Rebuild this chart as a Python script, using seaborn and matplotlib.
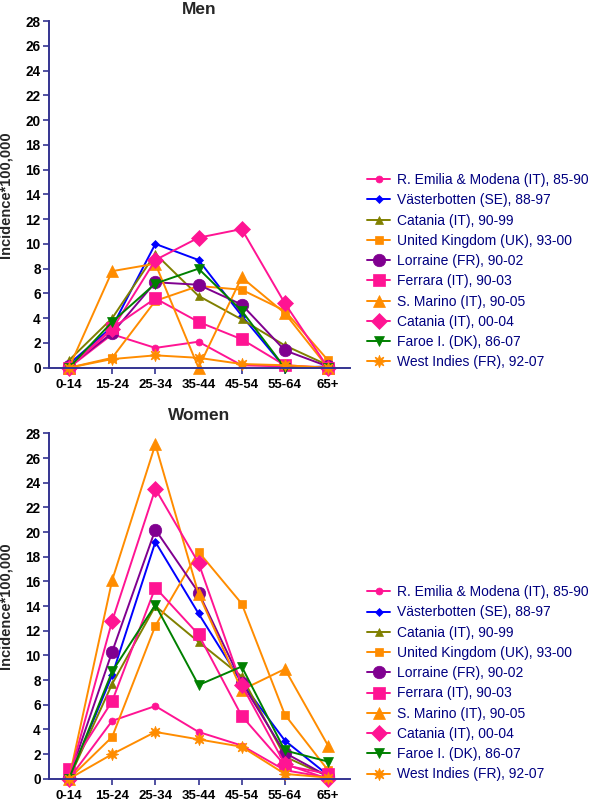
import matplotlib
matplotlib.use("Agg")
import matplotlib.pyplot as plt
import seaborn as sns

age_groups = ["0-14", "15-24", "25-34", "35-44", "45-54", "55-64", "65+"]
registries = [
    "R. Emilia & Modena (IT), 85-90",
    "Västerbotten (SE), 88-97",
    "Catania (IT), 90-99",
    "United Kingdom (UK), 93-00",
    "Lorraine (FR), 90-02",
    "Ferrara (IT), 90-03",
    "S. Marino (IT), 90-05",
    "Catania (IT), 00-04",
    "Faroe I. (DK), 86-07",
    "West Indies (FR), 92-07",
]

# incidence per 100,000 - men
men_emilia = [0.0, 2.7, 1.6, 2.1, 0.2, 0.1, 0.0]
men_vasterbotten = [0.3, 3.3, 10.0, 8.7, 4.2, 0.0, 0.1]
men_catania_90 = [0.6, 4.0, 9.2, 5.8, 3.9, 1.8, 0.2]
men_uk = [0.0, 0.8, 5.4, 6.6, 6.3, 4.6, 0.6]
men_lorraine = [0.1, 2.8, 6.9, 6.7, 5.1, 1.4, 0.1]
men_ferrara = [0.0, 3.2, 5.6, 3.7, 2.3, 0.2, 0.0]
men_smarino = [0.0, 7.8, 8.4, 0.0, 7.3, 4.4, 0.0]
men_catania_00 = [0.0, 3.1, 8.7, 10.5, 11.2, 5.2, 0.0]
men_faroe = [0.0, 3.7, 6.8, 8.0, 4.6, 0.0, 0.0]
men_westindies = [0.0, 0.7, 1.0, 0.8, 0.3, 0.2, 0.0]

# incidence per 100,000 - women
women_emilia = [0.0, 4.7, 5.9, 3.8, 2.7, 0.7, 0.1]
women_vasterbotten = [0.0, 8.4, 19.2, 13.4, 7.8, 3.1, 0.3]
women_catania_90 = [0.0, 7.7, 14.0, 11.1, 8.3, 1.8, 0.2]
women_uk = [0.0, 3.4, 12.4, 18.4, 14.2, 5.2, 0.7]
women_lorraine = [0.1, 10.3, 20.2, 15.1, 7.8, 2.1, 0.2]
women_ferrara = [0.8, 6.3, 15.5, 11.7, 5.1, 1.1, 0.4]
women_smarino = [0.0, 16.1, 27.1, 15.0, 7.2, 8.9, 2.7]
women_catania_00 = [0.0, 12.8, 23.5, 17.5, 7.6, 1.2, 0.0]
women_faroe = [0.0, 8.7, 14.1, 7.6, 9.1, 2.3, 1.4]
women_westindies = [0.0, 2.0, 3.8, 3.2, 2.6, 0.4, 0.1]

men_series = [men_emilia, men_vasterbotten, men_catania_90, men_uk, men_lorraine,
              men_ferrara, men_smarino, men_catania_00, men_faroe, men_westindies]
women_series = [women_emilia, women_vasterbotten, women_catania_90, women_uk, women_lorraine,
                women_ferrara, women_smarino, women_catania_00, women_faroe, women_westindies]

pink = "#FF1493"
orange = "#FF8C00"
colors = [pink, "#0000FF", "#808000", orange, "#800090",
          pink, orange, pink, "#008000", orange]
markers = ["o", "D", "^", "s", "o", "s", "^", "D", "v", (8, 1, 0)]
msizes = [5, 4.5, 6, 5.5, 9, 9, 9, 8, 7, 9]

navy = "#343491"

sns.set_style("ticks")
plt.rcParams["font.family"] = ["Liberation Sans", "DejaVu Sans"]

fig = plt.figure(figsize=(6, 8.05), dpi=100)
ax_men = fig.add_axes([0.0817, 0.5432, 0.5017, 0.4307])
ax_women = fig.add_axes([0.0817, 0.0325, 0.5017, 0.4292])


def draw_panel(ax, series, title, title_pad, legend_top):
    for vals, name, c, m, ms in zip(series, registries, colors, markers, msizes):
        sns.lineplot(x=age_groups, y=vals, ax=ax, color=c, marker=m, markersize=ms,
                     markeredgecolor=c, markeredgewidth=0.5, linewidth=1.4,
                     sort=False, label=name, clip_on=False)
    ax.set_xlim(-0.463, 6.51)
    ax.set_ylim(0, 28)
    ax.set_yticks(range(0, 29, 2))
    ax.set_xlabel("")
    ax.set_ylabel("Incidence*100,000", fontsize=10.5, fontweight="bold")
    ax.yaxis.set_label_coords(-0.12, 0.5)
    ax.set_title(title, fontsize=12.5, fontweight="bold", pad=title_pad)
    sns.despine(ax=ax)
    for side in ["left", "bottom"]:
        ax.spines[side].set_color(navy)
        ax.spines[side].set_linewidth(1.4)
    ax.tick_params(axis="both", colors=navy, labelcolor="black", labelsize=9.8,
                   width=1.2, length=4, pad=2)
    ax.tick_params(axis="x", pad=4, labelsize=9.5)
    for lab in ax.get_xticklabels() + ax.get_yticklabels():
        lab.set_fontweight("bold")
    ax.legend(loc="upper left", bbox_to_anchor=(0.612, legend_top),
              bbox_transform=fig.transFigure, frameon=False, borderpad=0,
              borderaxespad=0, fontsize=10, labelcolor="#000080",
              handlelength=1.65, handletextpad=0.5, labelspacing=0.45)


draw_panel(ax_men, men_series, "Men", 5.3, 0.785)
draw_panel(ax_women, women_series, "Women", 9.4, 0.273)

fig.savefig("out.png", dpi=100)
